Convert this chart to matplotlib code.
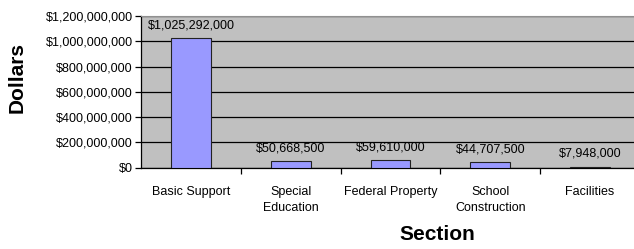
import matplotlib.pyplot as plt
import numpy as np

plt.rcParams['font.family'] = ['Liberation Sans', 'DejaVu Sans']

sections = ['Basic Support', 'Special\nEducation', 'Federal Property',
            'School\nConstruction', 'Facilities']
dollars = [1025292000, 50668500, 59610000, 44707500, 7948000]
yticks = [0, 200000000, 400000000, 600000000, 800000000, 1000000000, 1200000000]

fig = plt.figure(figsize=(6.34, 2.49), dpi=100)
ax = fig.add_axes([141 / 634, 1 - 167.7 / 249, 499 / 634, 151.7 / 249])
ax.set_facecolor('#c0c0c0')

x = np.arange(len(sections))
ax.bar(x, dollars, width=0.4, color='#9999ff', edgecolor='#222222', linewidth=0.8, zorder=3)

# value labels above each bar
for xi, v in zip(x, dollars):
    ax.annotate(f'${v:,.0f}', (xi, v), xytext=(0, 5), textcoords='offset points',
                ha='center', va='bottom', fontsize=9)

ax.set_xlim(-0.5, len(sections) - 0.5)
ax.set_ylim(0, 1200000000)
ax.set_yticks(yticks)
ax.set_yticklabels([f'${t:,.0f}' for t in yticks], fontsize=9)
ax.yaxis.grid(True, color='black', linewidth=0.9, zorder=1)
ax.set_axisbelow(True)

# category labels centred, tick marks at the category boundaries
ax.set_xticks(x)
ax.set_xticklabels(sections, fontsize=9, linespacing=1.5)
ax.tick_params(axis='x', which='major', length=0, pad=13)
ax.set_xticks(np.arange(0.5, len(sections) - 0.5), minor=True)
ax.tick_params(axis='x', which='minor', length=4, width=0.9, color='black')
ax.tick_params(axis='y', length=4, width=0.9, color='black', pad=2)

ax.spines['top'].set_color('#909090')
ax.spines['right'].set_visible(False)
ax.spines['left'].set_linewidth(0.9)
ax.spines['bottom'].set_linewidth(0.9)

fig.text(17 / 634, 1 - 77 / 249, 'Dollars', rotation=90, ha='center', va='center',
         fontsize=15, fontweight='bold')
fig.text(437 / 634, 1 - 234 / 249, 'Section', ha='center', va='center',
         fontsize=15, fontweight='bold')

fig.savefig('out.png', dpi=100)
